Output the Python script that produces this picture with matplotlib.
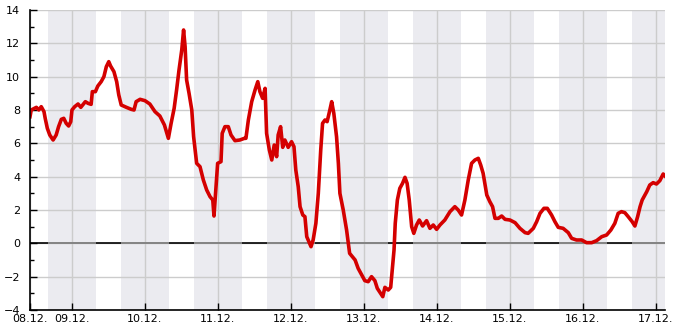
import matplotlib
matplotlib.use('Agg')
import matplotlib.pyplot as plt
from matplotlib.ticker import MultipleLocator
import numpy as np

# hours since 08.12. 00:00
hours = [10.2, 10.6, 12.3, 13.1, 13.9, 14.8, 15.2, 15.9, 16.7, 17.8, 18.8, 19.6, 20.5, 21.3, 22.1, 22.9, 23.6,
         24.0, 24.9, 26.0, 26.9, 28.4, 29.3, 30.3, 30.7, 31.7, 32.5, 33.6, 34.5, 35.3, 36.1, 36.7, 37.8, 38.7,
         39.4, 40.2, 41.9, 43.5, 44.4, 45.1, 46.4, 48.0, 49.6, 51.3, 52.9, 54.4, 55.7, 56.6, 57.6, 58.4, 59.2,
         60.1, 60.7, 61.2, 61.7, 62.5, 63.4, 64.0, 65.0, 66.1, 67.2, 68.3, 69.4, 70.3, 70.7, 71.3, 71.9, 73.0,
         73.4, 74.3, 75.4, 76.3, 77.6, 79.2, 80.7, 81.2, 82.0, 83.1, 84.2, 85.1, 85.8, 86.7, 87.5, 88.0, 88.9,
         89.7, 90.5, 91.3, 91.8, 92.6, 93.3, 94.0, 95.1, 96.2, 97.0, 97.6, 98.4, 99.0, 99.9, 100.6, 101.2,
         101.9, 102.6, 103.3, 104.2, 105.0, 105.8, 106.4, 107.2, 107.9, 108.8, 109.4, 110.1, 111.0, 111.6,
         112.1, 113.2, 114.3, 115.3, 117.1, 118.1, 119.3, 120.3, 121.4, 122.5, 123.6, 124.4, 125.5, 126.2,
         126.9, 128.0, 128.8, 129.4, 129.9, 130.3, 131.0, 131.8, 132.7, 133.5, 134.2, 134.9, 135.7, 136.4,
         137.3, 138.2, 139.3, 140.6, 141.7, 142.8, 143.9, 145.0, 146.6, 148.3, 149.9, 151.0, 152.1, 153.2,
         154.3, 155.4, 156.5, 157.6, 158.4, 159.2, 160.4, 161.4, 162.3, 163.1, 164.2, 165.3, 166.4, 168.0,
         169.7, 171.3, 173.0, 174.0, 175.7, 176.8, 177.9, 179.2, 180.3, 181.7, 182.8, 183.9, 185.5, 187.2,
         188.3, 189.9, 191.6, 193.2, 194.9, 196.5, 198.2, 199.8, 201.2, 202.5, 203.6, 204.7, 205.8, 206.9,
         208.2, 209.1, 210.0, 210.8, 211.5, 213.0, 214.0, 215.1, 216.2, 217.3, 218.4, 219.0]
temps = [7.6, 8.0, 8.16, 8.0, 8.2, 7.9, 7.5, 6.9, 6.5, 6.2, 6.5, 7.0, 7.44, 7.5, 7.2, 7.04, 7.3,
         8.0, 8.2, 8.36, 8.16, 8.5, 8.4, 8.34, 9.1, 9.1, 9.44, 9.7, 10.0, 10.6, 10.9, 10.64, 10.3, 9.7,
         8.9, 8.3, 8.16, 8.04, 8.0, 8.5, 8.64, 8.56, 8.36, 7.9, 7.64, 7.1, 6.3, 7.2, 8.1, 9.2, 10.4,
         11.6, 12.8, 11.8, 9.8, 9.0, 8.0, 6.4, 4.8, 4.6, 3.8, 3.2, 2.8, 2.6, 1.64, 3.2, 4.8, 4.9,
         6.6, 7.0, 7.0, 6.5, 6.16, 6.2, 6.3, 6.3, 7.4, 8.5, 9.2, 9.7, 9.1, 8.7, 9.3, 6.6, 5.6,
         5.0, 5.9, 5.2, 6.5, 7.0, 5.76, 6.2, 5.76, 6.1, 5.8, 4.4, 3.4, 2.2, 1.7, 1.6, 0.4,
         0.1, -0.2, 0.2, 1.2, 3.0, 5.6, 7.2, 7.4, 7.3, 8.0, 8.5, 7.8, 6.4, 4.8,
         3.0, 2.0, 0.8, -0.6, -1.0, -1.5, -1.9, -2.24, -2.3, -2.0, -2.24, -2.7, -3.0, -3.2,
         -2.64, -2.8, -2.64, -1.4, -0.4, 1.2, 2.6, 3.3, 3.6, 3.96, 3.6, 2.6, 1.0, 0.6,
         1.1, 1.4, 1.04, 1.36, 0.9, 1.1, 0.84, 1.1, 1.4, 1.9, 2.2, 2.0, 1.7, 2.6,
         3.8, 4.8, 5.0, 5.1, 4.7, 4.2, 2.9, 2.5, 2.2, 1.5, 1.5, 1.64, 1.44, 1.4,
         1.24, 0.9, 0.64, 0.6, 0.9, 1.3, 1.8, 2.1, 2.1, 1.7, 1.3, 0.96, 0.9, 0.64,
         0.3, 0.2, 0.2, 0.04, 0.04, 0.16, 0.4, 0.5, 0.8, 1.2, 1.8, 1.9, 1.84, 1.6,
         1.3, 1.04, 1.6, 2.2, 2.6, 3.1, 3.5, 3.64, 3.56, 3.76, 4.16, 4.04]

day_labels = ['09.12.', '10.12.', '11.12.', '12.12.', '13.12.', '14.12.', '15.12.', '16.12.', '17.12.']
day_hours = [24 * (i + 1) for i in range(len(day_labels))]
x_start, x_end = 10.2, 219.0

fig = plt.figure(figsize=(6.85, 3.30), dpi=100)
ax = fig.add_axes([30 / 685, 20 / 330, 635 / 685, 300 / 330])

# night bands 16:00 - 08:00, zero line is grey inside them
for k in range(10):
    a, b = 16 + 24 * k, 32 + 24 * k
    ax.axvspan(a, b, color='#ebebf0', lw=0, zorder=1)
    ax.hlines(0, max(a, x_start), min(b, x_end), color='#999999', lw=1.2, zorder=2.6)

ax.axhline(0, color='black', lw=1.2, zorder=2.5)
ax.plot(hours, temps, color='#d40000', lw=2.6, zorder=3)

ax.set_xlim(x_start, x_end)
ax.set_ylim(-4, 14)
ax.yaxis.set_major_locator(MultipleLocator(2))
ax.yaxis.set_minor_locator(MultipleLocator(1))
ax.set_xticks([x_start] + day_hours)
ax.set_xticklabels(['08.12.'] + day_labels)

ax.grid(True, which='major', color='#cccccc', lw=1)
for gl in ax.get_xgridlines() + ax.get_ygridlines():
    gl.set_zorder(2)

for s in ['top', 'right']:
    ax.spines[s].set_visible(False)
for s in ['left', 'bottom']:
    ax.spines[s].set_color('black')
    ax.spines[s].set_linewidth(1.2)
    ax.spines[s].set_zorder(4)

ax.tick_params(axis='y', which='major', direction='in', length=5, width=1, labelsize=8, pad=7)
ax.tick_params(axis='y', which='minor', direction='in', length=3, width=1)
ax.tick_params(axis='x', which='major', direction='in', length=5, width=1, labelsize=8, pad=3)

fig.savefig('out.png', dpi=100)
